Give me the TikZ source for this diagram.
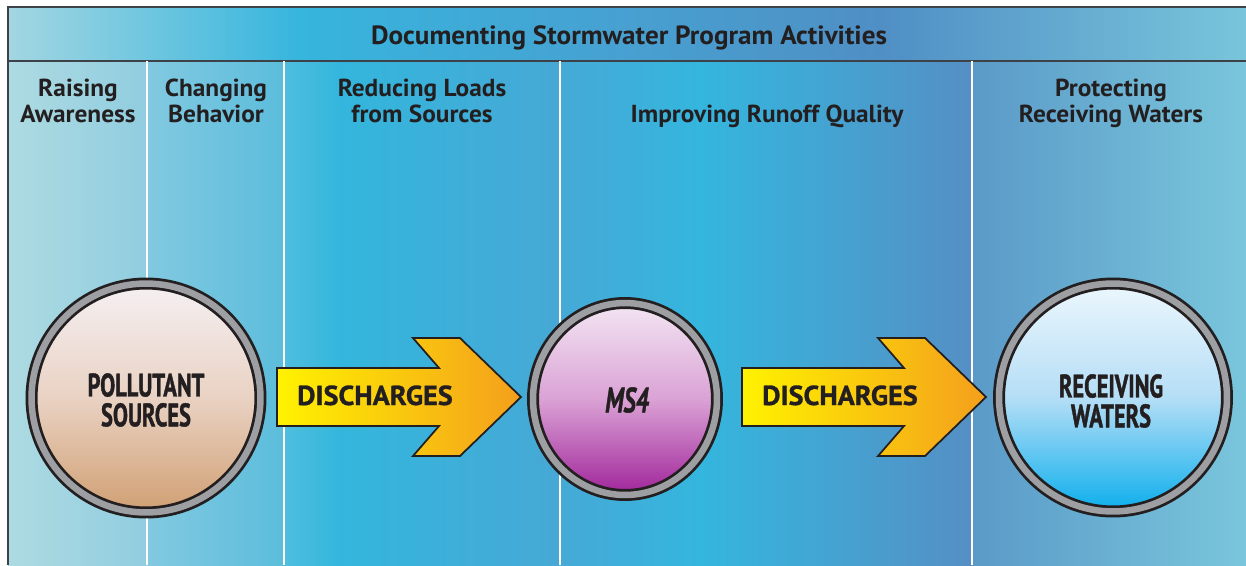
\documentclass[tikz,border=0pt]{standalone}
\usepackage{fontspec}
\setmainfont{PT Sans}
\newfontfamily\hdrfont[FakeStretch=1.03]{PT Sans Bold}
\newfontfamily\arrfont[FakeStretch=1.03, FakeBold=1]{PT Sans Bold}
\newfontfamily\condfont[FakeStretch=0.69, FakeBold=1.2]{PT Sans Bold}
\newfontfamily\condital[FakeStretch=0.68, FakeBold=1.2]{PT Sans Bold Italic}
\usetikzlibrary{shapes.geometric}
\definecolor{txtdark}{HTML}{231F20}
\definecolor{borderdark}{HTML}{3C4247}
\definecolor{ringdark}{HTML}{231F20}
\definecolor{ringgray}{HTML}{9D9FA2}
\definecolor{arrY}{HTML}{FFF200}
\definecolor{arrO}{HTML}{F49F1C}
\definecolor{polT}{HTML}{F5F0F3}
\definecolor{polM}{HTML}{E9D2C3}
\definecolor{polB}{HTML}{D09F72}
\definecolor{msT}{HTML}{F3E6F3}
\definecolor{msM}{HTML}{DAA2D5}
\definecolor{msB}{HTML}{A0249A}
\definecolor{recT}{HTML}{ECF7FD}
\definecolor{recM}{HTML}{B5DEF6}
\definecolor{recB}{HTML}{0BAEEC}
\begin{document}
\begin{tikzpicture}[x=0.02cm, y=-0.02cm,
  hdr/.style={font=\hdrfont\fontsize{14}{16}\selectfont, text=txtdark, inner sep=0pt, anchor=base},
  ctxt/.style={font=\condfont\fontsize{18.5}{17}\selectfont, text=txtdark, inner sep=0pt, align=center},
  atxt/.style={font=\arrfont\fontsize{15.6}{17}\selectfont, text=txtdark, inner sep=0pt, anchor=base},
  ringbase/.style={inner sep=0pt, draw=ringdark, line width=0.055cm, double=ringgray, double distance=0.13cm},
  sepline/.style={white, line width=0.035cm},
  border/.style={draw=borderdark, line width=0.035cm},
  blockarrow/.style={draw=txtdark, line width=0.035cm, left color=arrY, right color=arrO, line join=miter},
]
\useasboundingbox (0,0) rectangle (1246,565);
% header band
\shade[left color={rgb,255:red,163;green,214;blue,226}, right color={rgb,255:red,54;green,181;blue,221}] (8,7) rectangle (300.8,61);
\shade[left color={rgb,255:red,54;green,181;blue,221}, right color={rgb,255:red,70;green,162;blue,210}] (300,7) rectangle (600.8,61);
\shade[left color={rgb,255:red,70;green,162;blue,210}, right color={rgb,255:red,79;green,143;blue,197}] (600,7) rectangle (880.8,61);
\shade[left color={rgb,255:red,79;green,143;blue,197}, right color={rgb,255:red,121;green,197;blue,219}] (880,7) rectangle (1246,61);
% body columns
\shade[left color={rgb,255:red,174;green,219;blue,226}, right color={rgb,255:red,144;green,205;blue,224}] (8,61) rectangle (147.8,565);
\shade[left color={rgb,255:red,130;green,201;blue,224}, right color={rgb,255:red,91;green,189;blue,220}] (147,61) rectangle (284.8,565);
\shade[left color={rgb,255:red,78;green,190;blue,222}, right color={rgb,255:red,51;green,182;blue,221}] (284,61) rectangle (340.8,565);
\shade[left color={rgb,255:red,51;green,182;blue,221}, right color={rgb,255:red,71;green,168;blue,213}] (340,61) rectangle (560.8,565);
\shade[left color={rgb,255:red,70;green,169;blue,214}, right color={rgb,255:red,52;green,182;blue,222}] (560,61) rectangle (700.8,565);
\shade[left color={rgb,255:red,52;green,182;blue,222}, right color={rgb,255:red,85;green,143;blue,196}] (700,61) rectangle (972.8,565);
\shade[left color={rgb,255:red,90;green,154;blue,200}, right color={rgb,255:red,122;green,198;blue,220}] (972,61) rectangle (1246,565);
% borders and separators
\draw[border] (8,565) -- (8,7) -- (1246,7);
\draw[border] (8,61) -- (1246,61);
\foreach \xx in {147,284,560,972} \draw[sepline] (\xx,61) -- (\xx,565);
% header texts
\node[hdr, font=\hdrfont\fontsize{15}{16}\selectfont] (title) at (629,44) {Documenting Stormwater Program Activities};
\node[hdr] (h1a) at (78,96) {Raising};
\node[hdr] (h1b) at (78,122) {Awareness};
\node[hdr] (h2a) at (216,96) {Changing};
\node[hdr] (h2b) at (216,122) {Behavior};
\node[hdr] (h3a) at (422,96) {Reducing Loads};
\node[hdr] (h3b) at (422,122) {from Sources};
\node[hdr] (h4) at (767,122) {Improving Runoff Quality};
\node[hdr] (h5a) at (1111,96) {Protecting};
\node[hdr] (h5b) at (1111,122) {Receiving Waters};
% circles
\node[ringbase, circle, minimum size=4.58cm, top color=polT, bottom color=polB, middle color=polM] (pol) at (146,398) {};
\node[ringbase, ellipse, minimum width=3.68cm, minimum height=3.84cm, top color=msT, bottom color=msB, middle color=msM] (ms4) at (625,399) {};
\node[ringbase, circle, minimum size=4.56cm, top color=recT, bottom color=recB, middle color=recM] (rec) at (1113,397.5) {};
\node[ctxt] (polt) at (146,400) {POLLUTANT\\SOURCES};
\node[ctxt, font=\condital\fontsize{20}{20}\selectfont] (ms4t) at (627,400) {MS4};
\node[ctxt] (rect) at (1111,401) {RECEIVING\\WATERS};
% block arrows
\path[blockarrow] (277,368) -- (439,368) -- (413,338) -- (460,338) -- (521,397) -- (460,456) -- (413,456) -- (439,426) -- (277,426) -- cycle;
\path[blockarrow] (742,368) -- (904,368) -- (878,338) -- (925,338) -- (986,397) -- (925,456) -- (878,456) -- (904,426) -- (742,426) -- cycle;
\node[atxt] (d1) at (375,405) {DISCHARGES};
\node[atxt] (d2) at (840,405) {DISCHARGES};
\end{tikzpicture}
\end{document}
